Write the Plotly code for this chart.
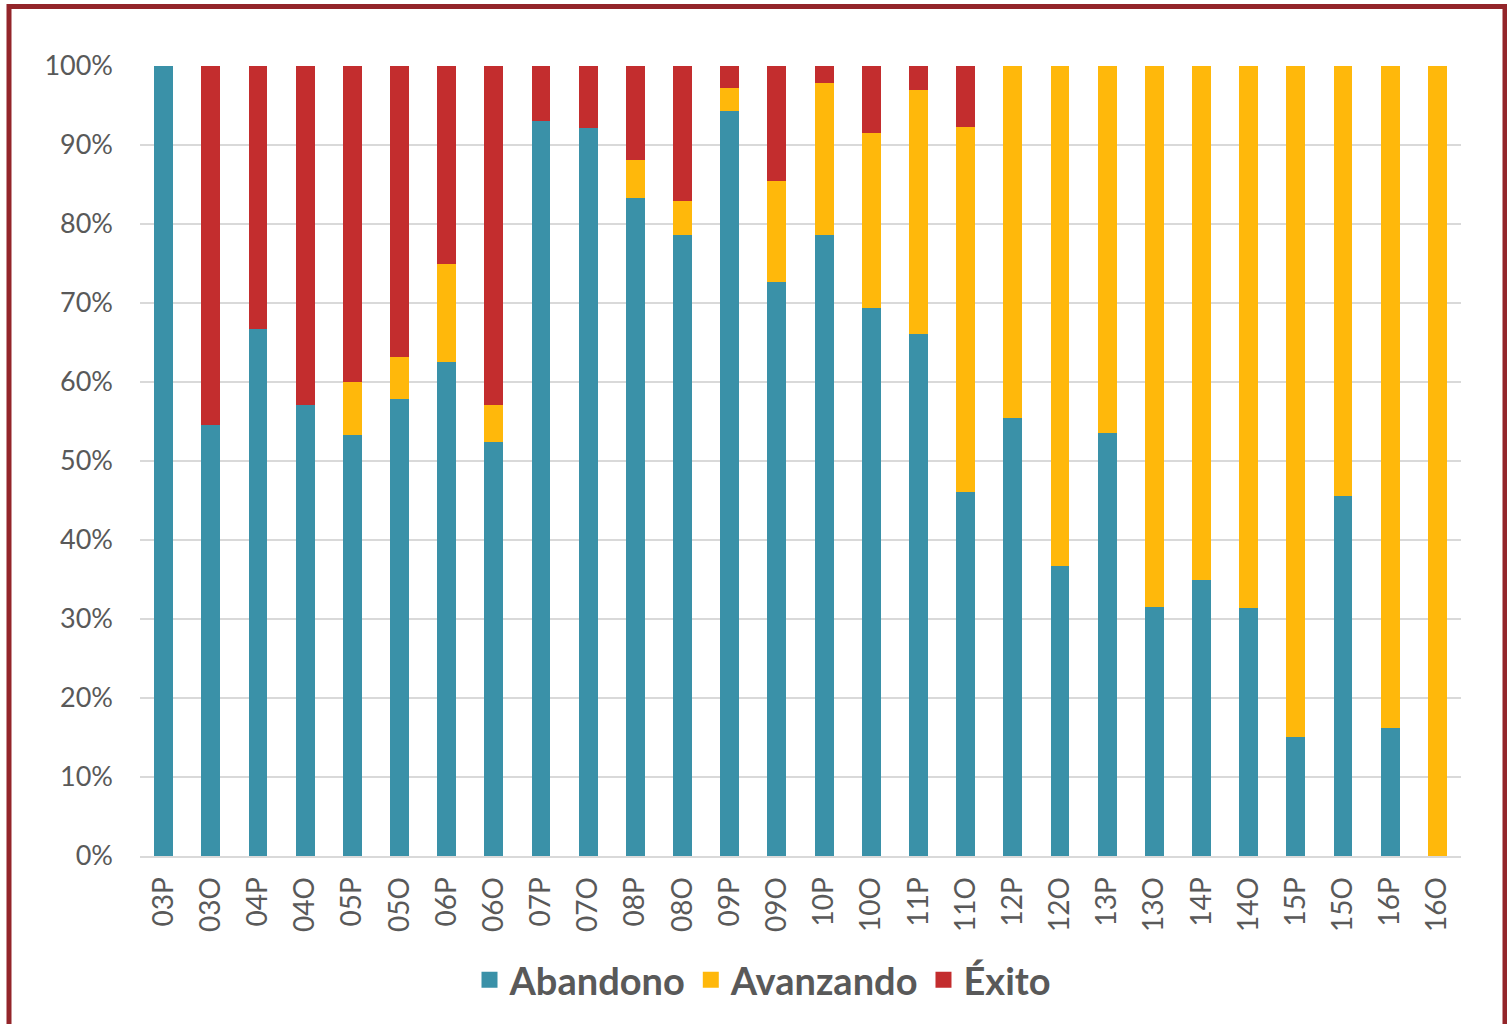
import plotly.graph_objects as go

categories = ["03P","03O","04P","04O","05P","05O","06P","06O","07P","07O","08P","08O","09P","09O",
              "10P","10O","11P","11O","12P","12O","13P","13O","14P","14O","15P","15O","16P","16O"]
abandono = [100.0, 54.6, 66.7, 57.1, 53.3, 57.8, 62.5, 52.4, 93.0, 92.2, 83.3, 78.6, 94.3, 72.6,
            78.6, 69.4, 66.1, 46.1, 55.5, 36.7, 53.5, 31.5, 34.9, 31.4, 15.1, 45.6, 16.2, 0.0]
avanzando = [0.0, 0.0, 0.0, 0.0, 6.7, 5.4, 12.5, 4.7, 0.0, 0.0, 4.8, 4.3, 2.9, 12.8,
             19.2, 22.1, 30.8, 46.2, 44.5, 63.3, 46.5, 68.5, 65.1, 68.6, 84.9, 54.4, 83.8, 100.0]
exito = [round(100 - a - v, 1) for a, v in zip(abandono, avanzando)]

series = [("Abandono", abandono, "#3A91A8"),
          ("Avanzando", avanzando, "#FFB80B"),
          ("Éxito", exito, "#C32D2E")]

W, H = 1507, 1024
L, R, T, B = 140, 46, 66, 168
pw, ph = W - L - R, H - T - B

fig = go.Figure()
for name, vals, col in series:
    fig.add_trace(go.Bar(x=categories, y=[v / 100 for v in vals], name=name,
                         marker=dict(color=col, line=dict(width=0)), showlegend=False,
                         legendgroup=name))
# legend entries with larger square swatches
for name, vals, col in series:
    fig.add_trace(go.Scatter(x=[None], y=[None], mode="markers", name=name, legendgroup=name,
                             marker=dict(symbol="square", size=21, color=col), showlegend=True))

font_fam = "Lato, 'Open Sans', sans-serif"
fig.update_layout(
    width=W, height=H, barmode="stack", bargap=0.6,
    margin=dict(l=L, r=R, t=T, b=B),
    paper_bgcolor="white", plot_bgcolor="white",
    font=dict(family=font_fam, color="#595959", size=27),
    yaxis=dict(range=[0, 1], dtick=0.1, tickformat=".0%", showgrid=True,
               gridcolor="#D9D9D9", gridwidth=2, zeroline=False, showline=False,
               ticklabelstandoff=26, tickfont=dict(size=27)),
    xaxis=dict(showgrid=False, showline=True, linecolor="#D9D9D9", linewidth=2,
               tickangle=-90, ticklabelstandoff=8, tickfont=dict(size=28)),
    legend=dict(orientation="h", x=(763 - L) / pw, xanchor="center",
                y=(856 - 980) / ph, yanchor="middle",
                font=dict(size=38, color="#595959", family=font_fam, weight="bold"),
                itemwidth=30, traceorder="normal", itemsizing="trace"),
    showlegend=True,
)

fig.add_shape(type="rect", xref="paper", yref="paper",
              x0=(9 - L) / pw, x1=(1505 - L) / pw,
              y0=(856 - 1040) / ph, y1=(856 - 6.5) / ph,
              line=dict(color="#93252A", width=5), fillcolor="rgba(0,0,0,0)", layer="above")

fig.write_html("out.html", config={"displayModeBar": False},
               post_script="document.body.style.margin='0';document.body.style.padding='0';")
